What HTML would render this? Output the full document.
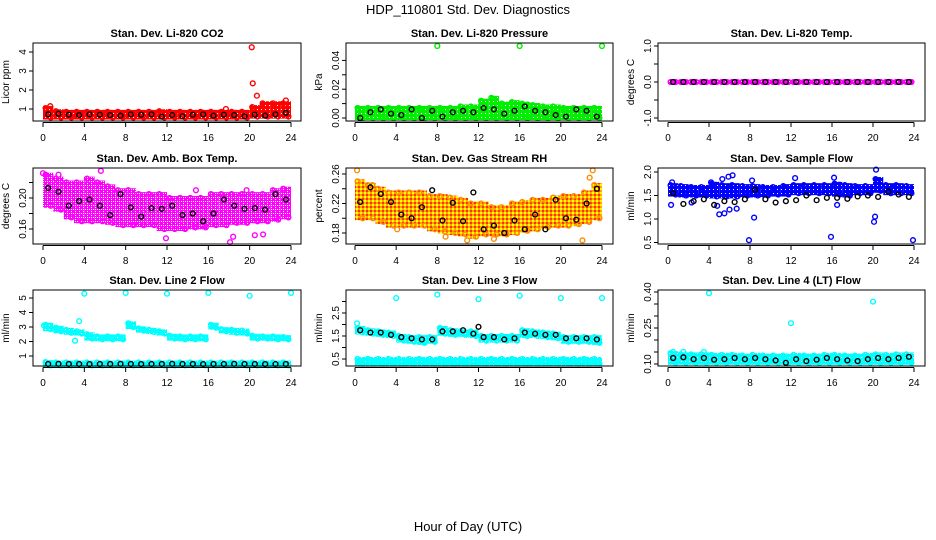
<!DOCTYPE html>
<html><head><meta charset="utf-8"><style>
body{margin:0;background:#fff;}
svg{display:block;font-family:"Liberation Sans",sans-serif;}
</style></head><body>
<svg id="chart" width="936" height="540" viewBox="0 0 936 540" xmlns="http://www.w3.org/2000/svg">
<text x="468" y="14" font-size="13" text-anchor="middle">HDP_110801  Std. Dev. Diagnostics</text>
<text x="468" y="531" font-size="13" text-anchor="middle">Hour of Day (UTC)</text>
</svg>
<script>
// ---- data ----
const xTicks=[0,4,8,12,16,20,24];
const blackHours=[0.5,1.5,2.5,3.5,4.5,5.5,6.5,7.5,8.5,9.5,10.5,11.5,12.5,13.5,14.5,15.5,16.5,17.5,18.5,19.5,20.5,21.5,22.5,23.5];
// P1 CO2
const co2Lo=[0.55,0.55,0.55,0.55,0.55,0.55,0.55,0.55,0.55,0.55,0.55,0.55,0.55,0.55,0.55,0.55,0.55,0.55,0.55,0.55,0.6,0.6,0.6,0.6];
const co2Hi=[1.05,0.88,0.85,0.85,0.85,0.85,0.85,0.85,0.85,0.85,0.85,0.88,0.85,0.85,0.85,0.85,0.85,0.85,0.85,0.85,1.1,1.3,1.3,1.3];
const co2OutH=[17.7,20.2,20.3,20.7,23.5,0.7];
const co2OutV=[1.0,4.25,2.35,1.7,1.45,1.15];
const co2Black=[0.72,0.75,0.7,0.68,0.72,0.7,0.68,0.65,0.72,0.7,0.72,0.6,0.68,0.62,0.7,0.72,0.65,0.7,0.68,0.62,0.7,0.65,0.72,0.8];
// P2 Pressure
const presLo=[0,0,0,0,0,0,0,0,0,0,0,0,0,0,0,0,0,0,0,0,0,0,0,0];
const presHi=[0.007,0.007,0.007,0.007,0.007,0.007,0.007,0.007,0.007,0.007,0.008,0.008,0.012,0.014,0.01,0.011,0.01,0.009,0.008,0.008,0.007,0.007,0.007,0.007];
const presOutH=[8,16,24];
const presOutV=[0.05,0.05,0.05];
const presBlack=[0.0,0.004,0.006,0.003,0.002,0.006,0.0,0.005,0.001,0.004,0.005,0.004,0.007,0.006,0.003,0.005,0.008,0.005,0.004,0.002,0.001,0.006,0.005,0.001];
// P3 Temp
const tempLo=[0,0,0,0,0,0,0,0,0,0,0,0,0,0,0,0,0,0,0,0,0,0,0,0];
const tempHi=[0,0,0,0,0,0,0,0,0,0,0,0,0,0,0,0,0,0,0,0,0,0,0,0];
const tempOutH=[];
const tempOutV=[];
const tempBlack=[0,0,0,0,0,0,0,0,0,0,0,0,0,0,0,0,0,0,0,0,0,0,0,0];
// P4 Amb box temp
const ambLo=[0.19,0.185,0.175,0.17,0.17,0.17,0.168,0.165,0.165,0.165,0.165,0.16,0.16,0.16,0.162,0.162,0.165,0.165,0.168,0.168,0.17,0.17,0.172,0.175];
const ambHi=[0.23,0.225,0.22,0.22,0.225,0.22,0.215,0.21,0.21,0.205,0.205,0.205,0.2,0.2,0.2,0.2,0.205,0.205,0.205,0.205,0.205,0.205,0.21,0.212];
const ambOutH=[0,1.5,5.6,14.8,18.1,19.7,18.4,11.9,20.5,21.3];
const ambOutV=[0.232,0.23,0.235,0.21,0.143,0.21,0.15,0.148,0.152,0.153];
const ambBlack=[0.213,0.208,0.19,0.196,0.198,0.19,0.178,0.205,0.188,0.176,0.187,0.186,0.19,0.178,0.18,0.17,0.18,0.198,0.19,0.186,0.187,0.185,0.205,0.198];
// P5 RH
const rhLo=[0.2,0.2,0.195,0.19,0.19,0.19,0.19,0.185,0.182,0.18,0.178,0.175,0.178,0.178,0.178,0.18,0.183,0.185,0.188,0.19,0.19,0.192,0.195,0.2];
const rhHi=[0.25,0.245,0.24,0.235,0.235,0.235,0.235,0.23,0.23,0.228,0.225,0.22,0.22,0.215,0.215,0.22,0.222,0.225,0.225,0.228,0.23,0.23,0.235,0.245];
const rhOutH=[0.2,1.7,4.1,8.8,10.9,13.5,22.1,22.8,23.1];
const rhOutV=[0.265,0.245,0.185,0.175,0.17,0.172,0.17,0.255,0.265];
const rhBlack=[0.222,0.242,0.233,0.222,0.205,0.2,0.215,0.238,0.197,0.221,0.196,0.235,0.185,0.19,0.18,0.197,0.185,0.205,0.185,0.225,0.2,0.198,0.22,0.24];
// P6 Sample flow
const sfLo=[1.52,1.5,1.5,1.5,1.48,1.48,1.48,1.5,1.5,1.5,1.52,1.52,1.55,1.55,1.55,1.55,1.52,1.5,1.55,1.55,1.6,1.55,1.55,1.55];
const sfHi=[1.72,1.7,1.68,1.68,1.75,1.72,1.72,1.7,1.7,1.68,1.68,1.7,1.72,1.72,1.72,1.72,1.75,1.72,1.7,1.7,1.85,1.72,1.72,1.7];
const sfOutH=[0.3,0.4,2.3,4.8,5.0,5.5,5.9,6.0,6.3,6.7,7.9,8.2,8.4,12.4,15.9,16.2,16.5,20.1,20.2,20.3,23.9,4.2,5.3];
const sfOutV=[1.3,1.78,1.35,1.28,1.1,1.12,1.9,1.2,1.93,1.22,0.55,1.82,1.03,1.87,0.62,1.88,1.3,0.94,1.05,2.05,0.55,1.78,1.85];
const sfBlack=[1.55,1.32,1.38,1.42,1.3,1.38,1.36,1.42,1.62,1.42,1.35,1.38,1.4,1.5,1.4,1.45,1.45,1.43,1.48,1.5,1.47,1.58,1.52,1.47];
// P7 Line 2
const l2Lo=[2.85,2.7,2.6,2.55,2.2,2.15,2.15,2.15,3.0,2.75,2.65,2.55,2.2,2.15,2.15,2.15,2.95,2.7,2.6,2.55,2.2,2.2,2.15,2.15];
const l2Hi=[3.15,2.95,2.8,2.7,2.5,2.35,2.35,2.35,3.25,2.9,2.8,2.7,2.4,2.35,2.35,2.35,3.15,2.85,2.8,2.75,2.4,2.35,2.35,2.3];
const l2BaseLo=[0.35,0.35,0.35,0.35,0.35,0.35,0.35,0.35,0.35,0.35,0.35,0.35,0.35,0.35,0.35,0.35,0.35,0.35,0.35,0.35,0.35,0.35,0.35,0.35];
const l2BaseHi=[0.58,0.55,0.55,0.55,0.55,0.55,0.55,0.55,0.55,0.55,0.55,0.55,0.55,0.55,0.55,0.55,0.55,0.55,0.55,0.55,0.55,0.55,0.55,0.55];
const l2OutH=[4,8,12,16,20,24,3.1,3.5,0.1];
const l2OutV=[5.3,5.35,5.3,5.35,5.15,5.35,2.05,3.4,3.1];
const l2Black=[0.45,0.46,0.45,0.45,0.44,0.45,0.45,0.46,0.45,0.44,0.45,0.45,0.46,0.45,0.45,0.44,0.45,0.45,0.46,0.45,0.45,0.44,0.45,0.45];
// P8 Line 3
const l3Lo=[1.65,1.6,1.55,1.5,1.3,1.25,1.2,1.25,1.6,1.55,1.55,1.5,1.3,1.3,1.3,1.3,1.5,1.5,1.45,1.4,1.25,1.25,1.25,1.2];
const l3Hi=[1.85,1.75,1.7,1.65,1.5,1.45,1.45,1.45,1.85,1.75,1.7,1.7,1.5,1.5,1.5,1.5,1.75,1.7,1.65,1.6,1.45,1.45,1.45,1.45];
const l3BaseLo=[0.3,0.3,0.3,0.3,0.3,0.3,0.3,0.3,0.3,0.3,0.3,0.3,0.3,0.3,0.3,0.3,0.3,0.3,0.3,0.3,0.3,0.3,0.3,0.3];
const l3BaseHi=[0.5,0.5,0.5,0.5,0.5,0.5,0.5,0.5,0.5,0.5,0.5,0.5,0.5,0.5,0.5,0.5,0.5,0.5,0.5,0.5,0.5,0.5,0.5,0.5];
const l3OutH=[0.2,4,8,12,16,20,24];
const l3OutV=[2.05,3.15,3.3,3.1,3.25,3.15,3.15];
const l3Black=[1.75,1.65,1.65,1.55,1.45,1.4,1.35,1.35,1.7,1.7,1.75,1.6,1.45,1.45,1.35,1.4,1.65,1.6,1.55,1.55,1.4,1.4,1.4,1.35];
// P9 Line 4
const l4Lo=[0.105,0.105,0.105,0.105,0.105,0.105,0.105,0.105,0.105,0.105,0.105,0.105,0.105,0.105,0.105,0.105,0.105,0.105,0.105,0.105,0.105,0.105,0.105,0.105];
const l4Hi=[0.145,0.14,0.14,0.14,0.138,0.138,0.138,0.135,0.138,0.135,0.135,0.135,0.138,0.135,0.135,0.138,0.138,0.135,0.135,0.138,0.14,0.138,0.14,0.14];
const l4OutH=[4,12,20,0.5,1.5,3.5];
const l4OutV=[0.395,0.27,0.36,0.15,0.15,0.15];
const l4Black=[0.125,0.128,0.12,0.125,0.118,0.12,0.125,0.12,0.125,0.12,0.115,0.105,0.12,0.112,0.118,0.125,0.12,0.115,0.112,0.12,0.125,0.12,0.125,0.13];

// ---- layout (not data) ----
const cols=[{l:33,r:301,x0:43,x24:291},{l:346,r:613,x0:355,x24:602},{l:658,r:925,x0:668,x24:914}];
const rows=[{t:43,b:121},{t:168,b:244},{t:290,b:366}];
const panels=[
 {name:'co2',title:'Stan. Dev. Li-820 CO2',yl:'Licor ppm',c:0,r:0,v0:1,p0:109,k:-19,ticks:[1,2,3,4],labs:[1,2,3,4],dec:0,col:'#ff0000',pat:'p-red',lo:co2Lo,hi:co2Hi,oh:co2OutH,ov:co2OutV,bk:co2Black},
 {name:'pressure',title:'Stan. Dev. Li-820 Pressure',yl:'kPa',c:1,r:0,v0:0,p0:118,k:-1440,ticks:[0,0.01,0.02,0.03,0.04],labs:[0,0.02,0.04],dec:2,col:'#00ee00',pat:'p-green',lo:presLo,hi:presHi,oh:presOutH,ov:presOutV,bk:presBlack},
 {name:'temp',title:'Stan. Dev. Li-820 Temp.',yl:'degrees C',c:2,r:0,v0:0,p0:82,k:-36,ticks:[-1,-0.5,0,0.5,1],labs:[-1,0,1],dec:1,col:'#ff00ff',pat:'p-mag',lo:tempLo,hi:tempHi,oh:tempOutH,ov:tempOutV,bk:tempBlack},
 {name:'amb-box-temp',title:'Stan. Dev. Amb. Box Temp.',yl:'degrees C',c:0,r:1,v0:0.2,p0:198,k:-775,ticks:[0.16,0.18,0.2,0.22],labs:[0.16,0.2],dec:2,col:'#ff00ff',pat:'p-mag2',lo:ambLo,hi:ambHi,oh:ambOutH,ov:ambOutV,bk:ambBlack},
 {name:'gas-rh',title:'Stan. Dev. Gas Stream RH',yl:'percent',c:1,r:1,v0:0.26,p0:174,k:-737.5,ticks:[0.18,0.2,0.22,0.24,0.26],labs:[0.18,0.22,0.26],dec:2,col:'#ff8c00',pat:'rhpat',lo:rhLo,hi:rhHi,oh:rhOutH,ov:rhOutV,bk:rhBlack},
 {name:'sample-flow',title:'Stan. Dev. Sample Flow',yl:'ml/min',c:2,r:1,v0:2,p0:172,k:-47,ticks:[0.5,1,1.5,2],labs:[0.5,1,1.5,2],dec:1,col:'#0000ff',pat:'p-blue',lo:sfLo,hi:sfHi,oh:sfOutH,ov:sfOutV,bk:sfBlack},
 {name:'line2-flow',title:'Stan. Dev. Line 2 Flow',yl:'ml/min',c:0,r:2,v0:1,p0:356,k:-14.5,ticks:[1,2,3,4,5],labs:[1,2,3,4,5],dec:0,col:'#00ffff',pat:'p-cyan',lo:l2Lo,hi:l2Hi,lo2:l2BaseLo,hi2:l2BaseHi,oh:l2OutH,ov:l2OutV,bk:l2Black},
 {name:'line3-flow',title:'Stan. Dev. Line 3 Flow',yl:'ml/min',c:1,r:2,v0:0.5,p0:359,k:-23,ticks:[0.5,1,1.5,2,2.5,3],labs:[0.5,1.5,2.5],dec:1,col:'#00ffff',pat:'p-cyan',lo:l3Lo,hi:l3Hi,lo2:l3BaseLo,hi2:l3BaseHi,oh:l3OutH,ov:l3OutV,bk:l3Black,bkOutH:[12],bkOutV:[1.9]},
 {name:'line4-flow',title:'Stan. Dev. Line 4 (LT) Flow',yl:'ml/min',c:2,r:2,v0:0.1,p0:364,k:-240,ticks:[0.1,0.15,0.2,0.25,0.3,0.35,0.4],labs:[0.1,0.25,0.4],dec:2,col:'#00ffff',pat:'p-cyan',lo:l4Lo,hi:l4Hi,oh:l4OutH,ov:l4OutV,bk:l4Black}
];
const NS='http://www.w3.org/2000/svg';
const svg=document.getElementById('chart');
const defs=document.createElementNS(NS,'defs');
function patDef(id,c,dens){return `<pattern id="${id}" width="4" height="4" patternUnits="userSpaceOnUse"><rect width="4" height="4" fill="${c}"/><rect x="1" y="1" width="1" height="1" fill="#fff"/>${dens?'<rect x="3" y="3" width="1" height="1" fill="#fff"/><rect x="3" y="1" width="1" height="1" fill="#fff"/>':''}</pattern>`;}
defs.innerHTML='<pattern id="rhpat" width="4" height="4" patternUnits="userSpaceOnUse"><rect width="4" height="4" fill="#ffa500"/><rect width="2" height="2" fill="#ffff00"/><rect x="2" y="2" width="2" height="2" fill="#ff3000"/></pattern>'
 +patDef('p-red','#ff0000',false)+patDef('p-green','#00ee00',false)+patDef('p-mag','#ff00ff',false)
 +patDef('p-mag2','#ff00ff',true)+patDef('p-blue','#0000ff',false)+patDef('p-cyan','#00ffff',false);
svg.appendChild(defs);
function mk(tag,attrs,parent){const e=document.createElementNS(NS,tag);for(const k in attrs)e.setAttribute(k,attrs[k]);parent.appendChild(e);return e;}
function circ(g,x,y,color){const c=mk('circle',{cx:x,cy:y,r:2.4,fill:'none',stroke:color,'stroke-width':1.4},g);return c;}
panels.forEach(p=>{
 const C=cols[p.c],R=rows[p.r];
 const X=h=>C.x0+(C.x24-C.x0)*h/24;
 const Y=v=>p.p0+(v-p.v0)*p.k;
 const g=mk('g',{},svg);
 
 
 const t=mk('text',{x:(C.l+C.r)/2,y:R.t-6,'font-size':11,'font-weight':'bold','text-anchor':'middle'},g);
 t.textContent=p.title;
 
 
 const yt=mk('text',{transform:`translate(${C.l-24},${(R.t+R.b)/2}) rotate(-90)`,'font-size':10,'text-anchor':'middle'},g);
 yt.textContent=p.yl;
 
 
 const stroke=p.col;
 const bands=[[p.lo,p.hi]];
 if(p.lo2)bands.push([p.lo2,p.hi2]);
 bands.forEach(([lo,hi])=>{
  lo.forEach((v,i)=>{
   const y1=Y(hi[i]),y2=Y(v);
   const x1=X(i),x2=X(i+1);
   const rc=mk('rect',{x:x1,y:y1-2,width:x2-x1,height:Math.max(y2-y1,0)+4,fill:'url(#'+p.pat+')'},g);
   
   
   const a=circ(g,X(i+0.25),y1,stroke);
   
   
   const b=circ(g,X(i+0.75),y2,stroke);
   
   
  });
 });
 p.oh.forEach((h,i)=>{
  const c=circ(g,X(h),Y(p.ov[i]),stroke);
  
  
 });
 p.bk.forEach((v,i)=>{
  const c=circ(g,X(blackHours[i]),Y(v),'#000');
  
  
 });
 (p.bkOutH||[]).forEach((h,i)=>{
  const c=circ(g,X(h),Y(p.bkOutV[i]),'#000');
  
  
 });
 const box=mk('rect',{x:C.l,y:R.t,width:C.r-C.l,height:R.b-R.t,fill:'none',stroke:'#000','stroke-width':1},g);
 
 
 mk('line',{x1:X(0),x2:X(24),y1:R.b+1.5,y2:R.b+1.5,stroke:'#000'},g);
 xTicks.forEach(h=>{
  mk('line',{x1:X(h),x2:X(h),y1:R.b+1.5,y2:R.b+6,stroke:'#000'},g);
  const tl=mk('text',{x:X(h),y:R.b+20,'font-size':10,'text-anchor':'middle'},g);
  tl.textContent=h;
  
  
 });
 const yv=p.ticks;
 mk('line',{x1:C.l,x2:C.l,y1:Y(yv[0]),y2:Y(yv[yv.length-1]),stroke:'#000'},g);
 yv.forEach(v=>{
  mk('line',{x1:C.l-4,x2:C.l,y1:Y(v),y2:Y(v),stroke:'#000'},g);
 });
 p.labs.forEach(v=>{
  const tl=mk('text',{transform:`translate(${C.l-7},${Y(v)}) rotate(-90)`,'font-size':10,'text-anchor':'middle'},g);
  tl.textContent=v.toFixed(p.dec);
  
  
 });
});
</script>
</body></html>
